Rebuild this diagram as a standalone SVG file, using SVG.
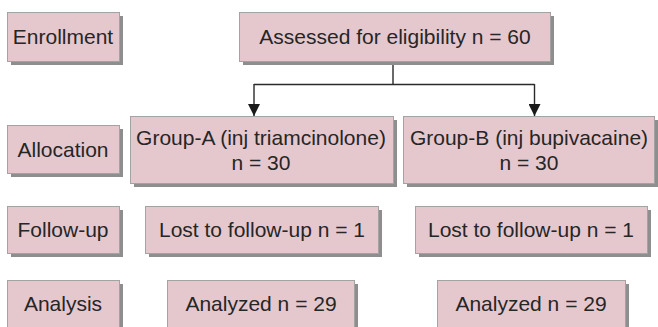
<svg xmlns="http://www.w3.org/2000/svg" width="658" height="327" viewBox="0 0 658 327">
<defs>
<style>
.sh{fill:#8e8e8e}
.bx{fill:#e5c8ce;stroke:#a3a3a3;stroke-width:1}
.t{font-family:"Liberation Sans",Arial,sans-serif;font-size:21px;fill:#262626;text-anchor:middle}
.c{fill:none;stroke:#2a2a2a;stroke-width:1.4}
</style>
<marker id="ah" viewBox="0 0 12 12" markerWidth="12" markerHeight="12" refX="12" refY="6" orient="auto" markerUnits="userSpaceOnUse">
<path d="M0,0 L12,6 L0,12 Z" fill="#1a1a1a"/>
</marker>
</defs>
<rect width="658" height="327" fill="#ffffff"/>
<g id="enrollment">
<rect class="sh" x="11" y="16" width="112" height="49"/>
<rect class="bx" x="7.5" y="12.5" width="112" height="49"/>
<text class="t" x="63" y="44">Enrollment</text>
</g>
<g id="assessed">
<rect class="sh" x="243" y="16" width="311" height="49"/>
<rect class="bx" x="239.5" y="12.5" width="311" height="49"/>
<text class="t" x="395" y="44">Assessed for eligibility n = 60</text>
</g>
<g id="allocation">
<rect class="sh" x="11" y="129" width="112" height="48"/>
<rect class="bx" x="7.5" y="125.5" width="112" height="48"/>
<text class="t" x="63" y="157">Allocation</text>
</g>
<g id="groupA">
<rect class="sh" x="134" y="120" width="263" height="67"/>
<rect class="bx" x="130.5" y="116.5" width="263" height="67"/>
<text class="t" x="261" y="145">Group-A (inj triamcinolone)</text>
<text class="t" x="261" y="170">n = 30</text>
</g>
<g id="groupB">
<rect class="sh" x="407" y="120" width="252" height="67"/>
<rect class="bx" x="403.5" y="116.5" width="251" height="67"/>
<text class="t" x="529" y="145">Group-B (inj bupivacaine)</text>
<text class="t" x="529" y="170">n = 30</text>
</g>
<g id="followup">
<rect class="sh" x="11" y="210" width="112" height="47"/>
<rect class="bx" x="7.5" y="206.5" width="112" height="47"/>
<text class="t" x="63" y="237">Follow-up</text>
</g>
<g id="lostA">
<rect class="sh" x="149" y="210" width="233" height="47"/>
<rect class="bx" x="145.5" y="206.5" width="233" height="47"/>
<text class="t" x="262" y="237">Lost to follow-up n = 1</text>
</g>
<g id="lostB">
<rect class="sh" x="419" y="210" width="232" height="47"/>
<rect class="bx" x="415.5" y="206.5" width="232" height="47"/>
<text class="t" x="531" y="237">Lost to follow-up n = 1</text>
</g>
<g id="analysis">
<rect class="sh" x="11" y="284" width="112" height="50"/>
<rect class="bx" x="7.5" y="280.5" width="112" height="50"/>
<text class="t" x="63" y="311">Analysis</text>
</g>
<g id="analyzedA">
<rect class="sh" x="171" y="284" width="187" height="50"/>
<rect class="bx" x="167.5" y="280.5" width="187" height="50"/>
<text class="t" x="261" y="311">Analyzed n = 29</text>
</g>
<g id="analyzedB">
<rect class="sh" x="441" y="284" width="188" height="50"/>
<rect class="bx" x="437.5" y="280.5" width="188" height="50"/>
<text class="t" x="531" y="311">Analyzed n = 29</text>
</g>
<g id="connectors">
<path class="c" d="M393,65 V84.5"/>
<path class="c" d="M254,84.5 H534.5"/>
<path class="c" d="M254,84 V116" marker-end="url(#ah)"/>
<path class="c" d="M534.5,84 V116" marker-end="url(#ah)"/>
</g>
</svg>
